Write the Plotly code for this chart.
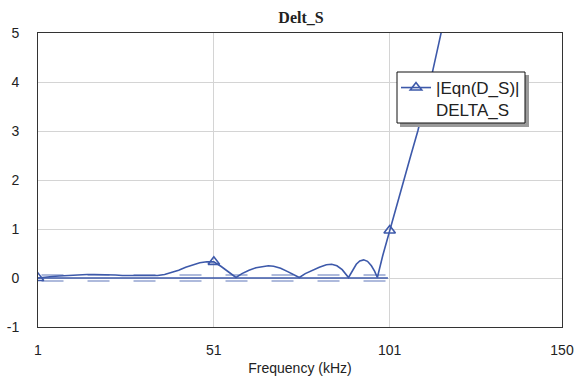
import plotly.graph_objects as go

# |Eqn(D_S)| sampled against frequency (kHz)
freq = [1, 3, 5, 7, 9, 11, 13, 15, 17, 19, 21, 23, 25, 27, 29, 31, 33, 35,
        37, 39, 41, 43, 45, 47, 49, 51, 53, 55, 57.3,
        59, 61, 63, 65, 66.5, 68, 70, 72, 74, 75.3,
        77, 79, 81, 83, 84.5, 86, 87.5, 89.3,
        90.5, 91.5, 92.5, 93.6, 94.7, 95.8, 96.7, 97.5,
        99, 101, 103, 105, 107, 109, 111, 113, 115, 117, 119]
delta_s = [0.00, 0.02, 0.03, 0.04, 0.05, 0.05, 0.06, 0.07, 0.07, 0.07, 0.06, 0.06,
           0.05, 0.05, 0.04, 0.04, 0.04, 0.05,
           0.07, 0.11, 0.16, 0.22, 0.27, 0.31, 0.33, 0.33, 0.24, 0.13, 0.01,
           0.09, 0.16, 0.21, 0.24, 0.25, 0.24, 0.20, 0.13, 0.06, 0.01,
           0.09, 0.16, 0.22, 0.27, 0.28, 0.25, 0.17, 0.01,
           0.17, 0.28, 0.35, 0.37, 0.34, 0.25, 0.14, 0.01,
           0.45, 0.97, 1.50, 2.02, 2.50, 3.00, 3.55, 4.15, 4.80, 5.45, 6.10]

# frequencies carrying a marker
marker_freq = [1, 51, 101]

# tolerance band around zero
band_x = [2, 100]
band_lo = -0.06
band_hi = 0.06
ref_x = [1, 100.5]
ref_y = 0

x_ticks = [1, 51, 101, 150]
y_ticks = [-1, 0, 1, 2, 3, 4, 5]

LINE = "#3D59AA"
BAND = "rgba(61,89,170,0.55)"
FONT = "Liberation Sans, Arial"

fig = go.Figure()

for lvl in (band_hi, band_lo):
    fig.add_trace(go.Scatter(
        x=band_x, y=[lvl, lvl], mode="lines", showlegend=False, hoverinfo="skip",
        line=dict(color=BAND, width=1.5, dash="22px,24px")))

fig.add_trace(go.Scatter(
    x=ref_x, y=[ref_y, ref_y], mode="lines", showlegend=False, hoverinfo="skip",
    line=dict(color=LINE, width=1.3)))

fig.add_trace(go.Scatter(
    x=freq, y=delta_s, mode="lines", showlegend=False,
    line=dict(color=LINE, width=1.6)))

mx, my = [], []
for f in marker_freq:
    i = freq.index(f)
    mx += [freq[i], None]
    my += [delta_s[i], None]
fig.add_trace(go.Scatter(
    x=mx[:-1], y=my[:-1], mode="lines+markers", name="|Eqn(D_S)|<br>DELTA_S",
    connectgaps=False,
    line=dict(color=LINE, width=1.6),
    marker=dict(symbol="triangle-up-open", size=10, color=LINE,
                line=dict(color=LINE, width=1.6))))

L, R, T, B = 38, 14, 33, 52
W, H = 576, 379
pw, ph = W - L - R, H - T - B

def px_x(p):
    return (p - L) / pw

def px_y(p):
    return (H - B - p) / ph

# legend frame with drop shadow (covers the curve behind it)
fig.add_shape(type="rect", xref="paper", yref="paper",
              x0=px_x(400), x1=px_x(529), y0=px_y(127), y1=px_y(75),
              fillcolor="#9a9a9a", line=dict(width=0), layer="above")
fig.add_shape(type="rect", xref="paper", yref="paper",
              x0=px_x(397), x1=px_x(525), y0=px_y(123), y1=px_y(72),
              fillcolor="white", line=dict(color="#111111", width=1), layer="above")

axis_common = dict(showline=True, linecolor="#333333", linewidth=1, mirror=True,
                   gridcolor="#d4d4d4", gridwidth=1, zeroline=False,
                   ticks="outside", ticklen=0, automargin=False,
                   tickfont=dict(family=FONT, size=14, color="#222222"))

fig.update_xaxes(range=[1, 150], tickvals=x_ticks, ticktext=[str(v) for v in x_ticks],
                 ticklabelstandoff=10,
                 title=dict(text="Frequency (kHz)", standoff=6,
                            font=dict(family=FONT, size=14, color="#222222")),
                 **axis_common)
fig.update_yaxes(range=[-1, 5], tickvals=y_ticks, ticktext=[str(v) for v in y_ticks],
                 ticklabelstandoff=15, **axis_common)

fig.update_layout(
    width=W, height=H,
    margin=dict(l=L, r=R, t=T, b=B),
    paper_bgcolor="white", plot_bgcolor="white",
    title=dict(text="<b>Delt_S</b>", x=301 / W, xanchor="center",
               y=1 - 17 / H, yanchor="middle",
               font=dict(family="Liberation Serif, Times New Roman", size=16, color="#222222")),
    legend=dict(x=px_x(396), y=px_y(70), xanchor="left", yanchor="top",
                bgcolor="rgba(0,0,0,0)", borderwidth=0,
                valign="top", itemwidth=30,
                font=dict(family=FONT, size=17, color="#222222")),
    showlegend=True,
)

fig.write_html("out.html")
